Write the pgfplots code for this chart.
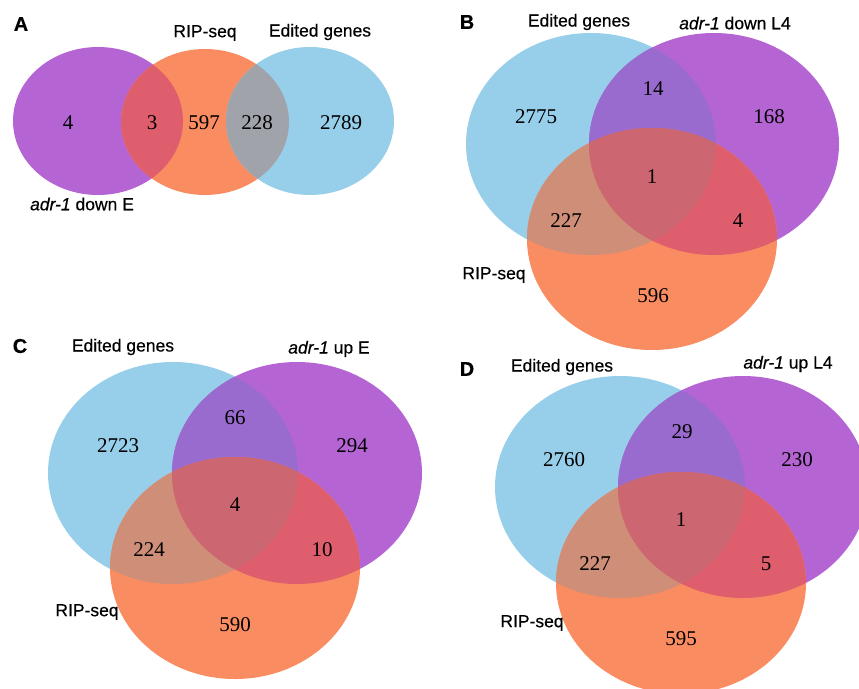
\documentclass[border=0pt]{standalone}
\usepackage{pgfplots}
\pgfplotsset{compat=1.18}
\usepackage{fontspec}
\setmainfont{Liberation Serif}
\setsansfont{Liberation Sans}[FakeBold=0.4]
\newfontfamily\labfont{Liberation Sans}[FakeBold=0.4, ItalicFeatures={FakeBold=0.4}]
\definecolor{cb}{RGB}{151,206,233}
\definecolor{cp}{RGB}{181,101,211}
\definecolor{co}{RGB}{250,140,98}
\definecolor{cpo}{RGB}{223,94,110}
\definecolor{cboA}{RGB}{160,164,170}
\definecolor{cbp}{RGB}{154,107,207}
\definecolor{cbo}{RGB}{206,142,120}
\definecolor{call}{RGB}{204,103,113}
\tikzset{
  num/.style={font=\fontsize{21}{24}\selectfont, inner sep=0pt},
  lab/.style={font=\labfont\fontsize{17.5}{20}\selectfont, inner sep=0pt},
  pan/.style={font=\sffamily\bfseries\fontsize{20}{22}\selectfont, inner sep=0pt},
  bigE/.style={x radius=125pt, y radius=111pt}
}
% three-set Venn: blue (#1,#2), purple (#3,#4), orange (#5,#6)
\newcommand\vennthree[6]{%
  \fill[cb] (axis cs:#1,#2) ellipse [bigE];
  \fill[cp] (axis cs:#3,#4) ellipse [bigE];
  \fill[co] (axis cs:#5,#6) ellipse [bigE];
  \begin{scope}
    \clip (axis cs:#1,#2) ellipse [bigE];
    \fill[cbp] (axis cs:#3,#4) ellipse [bigE];
  \end{scope}
  \begin{scope}
    \clip (axis cs:#1,#2) ellipse [bigE];
    \fill[cbo] (axis cs:#5,#6) ellipse [bigE];
  \end{scope}
  \begin{scope}
    \clip (axis cs:#3,#4) ellipse [bigE];
    \fill[cpo] (axis cs:#5,#6) ellipse [bigE];
  \end{scope}
  \begin{scope}
    \clip (axis cs:#1,#2) ellipse [bigE];
    \clip (axis cs:#3,#4) ellipse [bigE];
    \fill[call] (axis cs:#5,#6) ellipse [bigE];
  \end{scope}
}
\begin{document}
\begin{tikzpicture}
\begin{axis}[hide axis, scale only axis, width=859pt, height=688pt,
  xmin=0, xmax=859, ymin=0, ymax=688, y dir=reverse, clip=true]
\addplot[draw=none] coordinates {(0,0) (859,688)};
% ---------- Panel A ----------
\fill[cp] (axis cs:98,121) ellipse [x radius=85pt, y radius=74pt];
\fill[co] (axis cs:205,122) ellipse [x radius=84pt, y radius=73pt];
\fill[cb] (axis cs:310,121) ellipse [x radius=84pt, y radius=74pt];
\begin{scope}
  \clip (axis cs:98,121) ellipse [x radius=85pt, y radius=74pt];
  \fill[cpo] (axis cs:205,122) ellipse [x radius=84pt, y radius=73pt];
\end{scope}
\begin{scope}
  \clip (axis cs:205,122) ellipse [x radius=84pt, y radius=73pt];
  \fill[cboA] (axis cs:310,121) ellipse [x radius=84pt, y radius=74pt];
\end{scope}
\node[pan] at (axis cs:21,24) {A};
\node[lab] at (axis cs:205,33) {RIP-seq};
\node[lab] at (axis cs:320,32) {Edited genes};
\node[lab] at (axis cs:82,204) {\textit{adr-1} down E};
\node[num] at (axis cs:68,123) {4};
\node[num] at (axis cs:152,123) {3};
\node[num] at (axis cs:204,123) {597};
\node[num] at (axis cs:257,123) {228};
\node[num] at (axis cs:341,123) {2789};
% ---------- Panel B ----------
\vennthree{591}{144}{714}{144}{652}{239}
\node[pan] at (axis cs:467,22) {B};
\node[lab] at (axis cs:579,22) {Edited genes};
\node[lab] at (axis cs:735,23) {\textit{adr-1} down L4};
\node[lab] at (axis cs:494,275) {RIP-seq};
\node[num] at (axis cs:653,89) {14};
\node[num] at (axis cs:536,117) {2775};
\node[num] at (axis cs:769,117) {168};
\node[num] at (axis cs:652,177) {1};
\node[num] at (axis cs:566,221) {227};
\node[num] at (axis cs:738,221) {4};
\node[num] at (axis cs:653,296) {596};
% ---------- Panel C ----------
\vennthree{173}{473}{297}{473}{235}{568}
\node[pan] at (axis cs:20,346) {C};
\node[lab] at (axis cs:123,347) {Edited genes};
\node[lab] at (axis cs:329,349) {\textit{adr-1} up E};
\node[lab] at (axis cs:87,612) {RIP-seq};
\node[num] at (axis cs:235,418) {66};
\node[num] at (axis cs:118,446) {2723};
\node[num] at (axis cs:352,446) {294};
\node[num] at (axis cs:235,505) {4};
\node[num] at (axis cs:149,550) {224};
\node[num] at (axis cs:322,550) {10};
\node[num] at (axis cs:235,625) {590};
% ---------- Panel D ----------
\vennthree{620}{487}{743}{487}{681}{583}
\node[pan] at (axis cs:467,369) {D};
\node[lab] at (axis cs:562,367) {Edited genes};
\node[lab] at (axis cs:788,364) {\textit{adr-1} up L4};
\node[lab] at (axis cs:532,623) {RIP-seq};
\node[num] at (axis cs:682,432) {29};
\node[num] at (axis cs:564,460) {2760};
\node[num] at (axis cs:797,460) {230};
\node[num] at (axis cs:681,520) {1};
\node[num] at (axis cs:595,564) {227};
\node[num] at (axis cs:766,564) {5};
\node[num] at (axis cs:681,639) {595};
\end{axis}
\pgfresetboundingbox
\path[use as bounding box] (current axis.south west) rectangle (current axis.north east);
\end{tikzpicture}
\end{document}
